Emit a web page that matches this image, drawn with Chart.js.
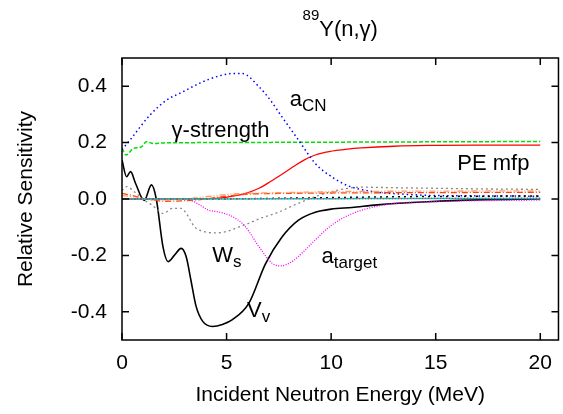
<!DOCTYPE html>
<html>
<head>
<meta charset="utf-8">
<script src="https://cdn.jsdelivr.net/npm/chart.js@4.4.0/dist/chart.umd.min.js"></script>
<style>
  body { margin: 0; background: #fff; }
  #box { width: 563px; height: 414px; }
</style>
</head>
<body>
<div id="box"><canvas id="grafico"></canvas></div>
<script>
// Energias (MeV) e sensibilidades
var vvE = [0, 0.22, 0.41, 0.65, 1.06, 1.41, 1.64, 1.96, 2.2, 2.5, 2.83, 3.07, 3.3, 3.54, 3.86, 4.33, 4.8, 5.28, 6.07, 6.86, 7.65, 8.44, 9.24, 10.0, 11.0, 12.2, 14.6, 17, 20]
var vvS = [0.138, 0.079, 0.097, 0.055, -0.005, 0.05, 0.0, -0.17, -0.222, -0.2, -0.175, -0.205, -0.29, -0.38, -0.434, -0.452, -0.445, -0.428, -0.369, -0.23, -0.135, -0.075, -0.047, -0.036, -0.03, -0.021, -0.01, -0.003, 0]

var atE = [0, 1, 2, 3, 3.4, 3.8, 4.1, 4.6, 5.1, 5.5, 5.9, 6.55, 7.18, 7.57, 8.13, 8.7, 9.24, 9.9, 10.5, 11.45, 13, 14.6, 17, 20]
var atS = [0, 0, 0, -0.002, -0.008, -0.025, -0.038, -0.046, -0.056, -0.072, -0.098, -0.169, -0.228, -0.237, -0.222, -0.185, -0.145, -0.1, -0.07, -0.04, -0.016, -0.01, -0.006, -0.004]

var wsE = [0, 0.22, 0.6, 1.06, 1.4, 1.72, 1.96, 2.43, 2.83, 3.15, 3.46, 3.94, 4.5, 4.97, 5.5, 6.07, 6.7, 7.34, 8.44, 9.71, 10.8, 11.45, 13, 15, 17, 20]
var wsS = [0.03, 0.044, 0.025, -0.004, -0.02, -0.039, -0.051, -0.033, -0.033, -0.06, -0.098, -0.116, -0.12, -0.116, -0.102, -0.086, -0.066, -0.051, -0.015, 0.02, 0.038, 0.042, 0.04, 0.038, 0.036, 0.034]

var acnE = [0, 0.38, 1.33, 2.12, 2.91, 3.7, 4.49, 5.28, 5.75, 6.55, 7.1, 7.65, 8.44, 9.24, 10.02, 10.8, 12.24, 13.5, 14.6, 17, 20]
var acnS = [0.175, 0.209, 0.297, 0.35, 0.38, 0.41, 0.433, 0.445, 0.445, 0.398, 0.35, 0.291, 0.209, 0.126, 0.079, 0.047, 0.024, 0.017, 0.013, 0.011, 0.01]

var gsE = [0, 0.19, 0.54, 0.93, 1.17, 1.49, 2, 4, 8, 12, 16, 20]
var gsS = [0.179, 0.156, 0.179, 0.185, 0.203, 0.197, 0.199, 0.2, 0.201, 0.202, 0.203, 0.204]

var peE = [0, 2, 4, 4.6, 5.3, 6, 6.55, 7.1, 7.65, 8.2, 8.7, 9.24, 9.9, 10.8, 11.45, 13, 14.6, 17, 20]
var peS = [0, 0, 0.001, 0.003, 0.01, 0.022, 0.038, 0.062, 0.088, 0.115, 0.138, 0.156, 0.168, 0.177, 0.181, 0.187, 0.19, 0.191, 0.191]

var o1E = [0, 0.5, 1, 1.5, 2, 3, 4, 5, 6, 8, 12, 16, 20]
var o1S = [0.02, 0.012, 0.002, -0.004, -0.008, -0.006, 0.0, 0.01, 0.017, 0.02, 0.022, 0.023, 0.024]

var o2E = [0, 0.5, 1, 2, 3, 4, 5, 6, 8, 10, 15, 20]
var o2S = [0.012, 0.008, 0.0, -0.003, 0.0, 0.008, 0.016, 0.02, 0.023, 0.026, 0.028, 0.029]

var bdE = [0, 4, 6, 8, 10, 12, 15, 20]
var bdS = [0, 0, 0.001, 0.003, 0.005, 0.007, 0.009, 0.011]

var ciE = [0, 5, 10, 15, 20]
var ciS = [0, 0, 0.001, 0.002, 0.002]

var rdE = [0, 5, 10, 15, 20]
var rdS = [0.001, 0.001, 0.001, 0.002, 0.003]

var xTicks = [0, 5, 10, 15, 20]
var yTicks = [-0.4, -0.2, 0, 0.2, 0.4]

// Rótulos dentro do gráfico: texto, subscrito, posição em dados
var rotulos = [
  { t: 'a', s: 'CN', x: 8.02, y: 0.329 },
  { t: 'γ-strength', s: '', x: 2.37, y: 0.219 },
  { t: 'PE mfp', s: '', x: 16.03, y: 0.103 },
  { t: 'W', s: 's', x: 4.32, y: -0.222 },
  { t: 'a', s: 'target', x: 9.54, y: -0.227 },
  { t: 'V', s: 'v', x: 5.98, y: -0.417 }
]

function pontos(xs, ys) {
  return xs.map(function (v, i) { return { x: v, y: ys[i] } })
}

function serie(xs, ys, cor, largura, traco) {
  return {
    data: pontos(xs, ys),
    borderColor: cor,
    borderWidth: largura,
    borderDash: traco,
    pointRadius: 0,
    fill: false,
    cubicInterpolationMode: 'monotone'
  }
}

const fonte = 'Liberation Sans, Arial, sans-serif'

//Desenha moldura, ticks para dentro, título e rótulos
const enfeites = {
  id: 'enfeites',
  afterDatasetsDraw(chart) {
    const ctx = chart.ctx
    const a = chart.chartArea
    const x = chart.scales.x
    const y = chart.scales.y
    ctx.save()
    ctx.strokeStyle = '#000'
    ctx.lineWidth = 1.5
    ctx.setLineDash([])
    ctx.strokeRect(a.left, a.top, a.right - a.left, a.bottom - a.top)
    ctx.beginPath()
    xTicks.forEach(function (v) {
      const px = x.getPixelForValue(v)
      ctx.moveTo(px, a.bottom); ctx.lineTo(px, a.bottom - 7)
      ctx.moveTo(px, a.top); ctx.lineTo(px, a.top + 7)
    })
    yTicks.forEach(function (v) {
      const py = y.getPixelForValue(v)
      ctx.moveTo(a.left, py); ctx.lineTo(a.left + 7, py)
      ctx.moveTo(a.right, py); ctx.lineTo(a.right - 7, py)
    })
    ctx.stroke()

    ctx.fillStyle = '#000'
    ctx.textBaseline = 'alphabetic'
    ctx.textAlign = 'left'
    rotulos.forEach(function (r) {
      const px = x.getPixelForValue(r.x)
      const py = y.getPixelForValue(r.y)
      ctx.font = '22px ' + fonte
      ctx.fillText(r.t, px, py)
      if (r.s) {
        const w = ctx.measureText(r.t).width
        ctx.font = '17px ' + fonte
        ctx.fillText(r.s, px + w, py + 5)
      }
    })

    // título com número de massa sobrescrito
    ctx.font = '15px ' + fonte
    const w1 = ctx.measureText('89').width
    ctx.font = '22px ' + fonte
    const w2 = ctx.measureText('Y(n,γ)').width
    const x0 = (a.left + a.right) / 2 - (w1 + w2) / 2
    ctx.font = '15px ' + fonte
    ctx.fillText('89', x0, 20)
    ctx.font = '22px ' + fonte
    ctx.fillText('Y(n,γ)', x0 + w1, 36)
    ctx.restore()
  }
}

const ctx = document.getElementById('grafico')

let grafico = new Chart(ctx, {
  type: 'line',
  data: {
    datasets: [
      serie(rdE, rdS, '#ff3030', 1.2, [1, 2]),
      serie(ciE, ciS, '#00c8c8', 1.5, []),
      serie(bdE, bdS, '#000000', 1.5, [2, 4]),
      serie(o2E, o2S, '#ff9966', 1.3, [6, 2, 1, 2, 1, 2]),
      serie(o1E, o1S, '#ff4400', 1.3, [6, 2, 1, 2]),
      serie(wsE, wsS, '#888888', 1.3, [2, 3]),
      serie(atE, atS, '#ff00ff', 1.3, [1, 1.5]),
      serie(acnE, acnS, '#0000ff', 1.5, [1.5, 3]),
      serie(gsE, gsS, '#00e000', 1.5, [4, 2]),
      serie(peE, peS, '#ff0000', 1.3, []),
      serie(vvE, vvS, '#000000', 1.6, [])
    ]
  },
  options: {
    responsive: true,
    maintainAspectRatio: false,
    animation: false,
    layout: { padding: { top: 58, right: 1, left: 0, bottom: 0 } },
    plugins: {
      legend: { display: false },
      tooltip: { enabled: false }
    },
    scales: {
      x: {
        type: 'linear',
        min: 0,
        max: 20.87,
        afterBuildTicks: function (s) { s.ticks = xTicks.map(function (v) { return { value: v } }) },
        afterFit: function (s) { s.height = 74 },
        grid: { display: false, drawTicks: false },
        border: { display: false },
        ticks: { color: '#000', font: { family: fonte, size: 21 }, padding: 11, maxRotation: 0 },
        title: { display: true, text: 'Incident Neutron Energy (MeV)', color: '#000', font: { family: fonte, size: 21 }, padding: { top: 0, bottom: 6 } }
      },
      y: {
        min: -0.5,
        max: 0.5,
        afterBuildTicks: function (s) { s.ticks = yTicks.map(function (v) { return { value: v } }) },
        afterFit: function (s) { s.width = 122 },
        grid: { display: false, drawTicks: false },
        border: { display: false },
        ticks: {
          color: '#000', font: { family: fonte, size: 21 }, padding: 15,
          callback: function (v) { return Number(v).toFixed(1) }
        },
        title: { display: true, text: 'Relative Sensitivity', color: '#000', font: { family: fonte, size: 21 }, padding: { top: 14, bottom: 0 } }
      }
    }
  },
  plugins: [enfeites]
});
</script>
</body>
</html>
